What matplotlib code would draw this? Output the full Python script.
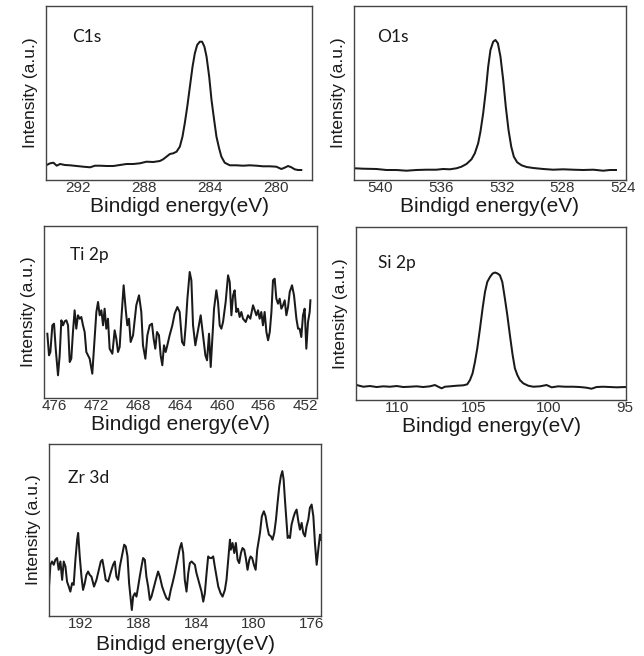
import matplotlib
matplotlib.use("Agg")
import matplotlib.pyplot as plt

plt.rcParams['font.family'] = ['Liberation Sans', 'DejaVu Sans']

# ---- data (binding energy in eV, intensity in a.u.) ----
c1s_e = [293.92, 293.71, 293.51, 293.31, 293.11, 292.81, 292.50, 292.10, 291.70, 291.29,
         290.99, 290.69, 290.29, 289.88, 289.48, 289.08, 288.67, 288.27, 287.87, 287.46,
         287.06, 286.86, 286.66, 286.45, 286.25, 286.05, 285.85, 285.69, 285.55, 285.40,
         285.24, 285.08, 284.94, 284.80, 284.64, 284.50, 284.36, 284.23, 284.07, 283.93,
         283.77, 283.63, 283.47, 283.33, 283.13, 282.82, 282.42, 282.02, 281.61, 281.21,
         280.81, 280.40, 280.00, 279.70, 279.50, 279.29, 279.09, 278.89, 278.69, 278.49]
c1s_i = [15.0, 16.7, 17.3, 14.3, 16.0, 15.0, 14.7, 14.0, 13.3, 12.7,
         14.3, 14.3, 14.0, 14.0, 15.0, 16.0, 16.0, 16.7, 18.3, 18.0,
         19.0, 20.7, 23.3, 26.0, 26.7, 28.3, 33.3, 43.3, 56.7, 73.3,
         93.3, 113.3, 126.7, 135.0, 138.3, 138.3, 133.3, 123.3, 103.3, 80.0,
         60.0, 43.3, 31.7, 23.3, 17.3, 14.7, 14.7, 14.3, 14.7, 14.3,
         13.7, 13.7, 13.3, 11.0, 12.3, 14.0, 12.7, 10.7, 10.0, 10.0]

o1s_e = [541.69, 541.14, 540.26, 539.60, 538.95, 538.29, 537.63, 536.97, 536.31, 535.87,
         535.43, 534.99, 534.66, 534.33, 534.00, 533.78, 533.56, 533.41, 533.23, 533.05,
         532.90, 532.75, 532.57, 532.42, 532.26, 532.09, 531.91, 531.74, 531.56, 531.38,
         531.21, 530.99, 530.70, 530.37, 529.93, 529.27, 528.62, 527.96, 527.30, 526.64,
         525.98, 525.32, 524.88, 524.48]
o1s_i = [11.7, 11.3, 11.0, 10.0, 10.0, 9.3, 10.0, 10.3, 10.3, 11.0,
         10.7, 11.7, 13.3, 16.0, 20.7, 26.7, 36.7, 48.3, 66.7, 90.0,
         113.3, 130.0, 138.3, 140.0, 136.7, 123.3, 100.0, 73.3, 50.0, 33.3,
         23.3, 17.7, 14.7, 13.0, 12.0, 11.0, 10.3, 10.7, 10.3, 10.0,
         10.3, 9.3, 10.0, 10.0]

ti2p_e = [476.70, 476.54, 476.41, 476.22, 476.06, 475.90, 475.68, 475.52, 475.36, 475.20,
          475.04, 474.88, 474.72, 474.56, 474.41, 474.25, 474.09, 473.93, 473.77, 473.61,
          473.45, 473.29, 473.13, 472.97, 472.65, 472.40, 472.24, 472.01, 471.85, 471.69,
          471.53, 471.37, 471.22, 471.06, 470.90, 470.74, 470.48, 470.26, 470.10, 469.94,
          469.78, 469.62, 469.40, 469.21, 469.05, 468.89, 468.73, 468.50, 468.19, 467.93,
          467.71, 467.55, 467.32, 467.13, 466.91, 466.69, 466.53, 466.37, 466.21, 466.02,
          465.86, 465.70, 465.54, 465.38, 465.22, 465.00, 464.74, 464.52, 464.26, 464.04,
          463.81, 463.62, 463.46, 463.30, 463.08, 462.92, 462.76, 462.54, 462.28, 462.03,
          461.81, 461.58, 461.42, 461.23, 461.07, 460.91, 460.75, 460.53, 460.37, 460.21,
          460.05, 459.89, 459.64, 459.41, 459.25, 459.09, 458.93, 458.78, 458.62, 458.46,
          458.30, 458.14, 457.98, 457.72, 457.50, 457.28, 457.02, 456.86, 456.70, 456.54,
          456.39, 456.23, 456.07, 455.91, 455.74, 455.58, 455.42, 455.26, 455.11, 454.95,
          454.79, 454.63, 454.47, 454.31, 454.15, 453.99, 453.83, 453.67, 453.51, 453.29,
          453.10, 452.87, 452.71, 452.56, 452.40, 452.24, 452.08, 451.92, 451.76, 451.60,
          451.53]
ti2p_i = [64.3, 42.7, 46.0, 72.7, 74.3, 49.3, 22.7, 42.7, 77.7, 72.7,
          76.7, 77.7, 72.7, 36.0, 39.3, 66.0, 87.7, 69.3, 82.7, 79.3,
          81.0, 72.7, 66.0, 46.0, 39.3, 24.3, 49.3, 86.0, 96.0, 82.7,
          87.7, 72.7, 89.3, 69.3, 79.3, 49.3, 44.3, 67.7, 59.3, 46.0,
          51.0, 79.3, 112.7, 89.3, 72.7, 79.3, 56.0, 62.7, 92.7, 102.7,
          86.0, 52.7, 39.3, 62.7, 72.7, 74.3, 59.3, 49.3, 66.0, 62.7,
          42.7, 32.7, 52.7, 46.0, 52.7, 62.7, 72.7, 84.3, 91.0, 86.0,
          56.0, 52.7, 72.7, 99.3, 126.0, 117.7, 72.7, 52.7, 67.7, 82.7,
          62.7, 42.7, 37.7, 64.3, 31.0, 59.3, 89.3, 107.7, 96.0, 72.7,
          69.3, 76.0, 96.0, 122.7, 116.0, 82.7, 102.7, 107.7, 86.0, 89.3,
          81.0, 86.0, 79.3, 76.0, 82.7, 79.3, 92.7, 87.7, 82.7, 87.7,
          79.3, 86.0, 72.7, 86.0, 66.0, 57.7, 66.0, 86.0, 117.7, 119.3,
          99.3, 94.3, 99.3, 89.3, 92.7, 97.7, 82.7, 91.0, 106.0, 112.7,
          102.7, 79.3, 69.3, 69.3, 61.0, 82.7, 89.3, 49.3, 76.0, 86.0,
          97.7]

si2p_e = [112.68, 112.24, 111.80, 111.36, 110.92, 110.48, 110.04, 109.60, 109.17, 108.73,
          108.29, 107.85, 107.52, 107.30, 107.08, 106.86, 106.53, 106.09, 105.65, 105.39,
          105.21, 105.04, 104.88, 104.73, 104.55, 104.38, 104.22, 104.07, 103.89, 103.72,
          103.56, 103.39, 103.24, 103.08, 102.91, 102.75, 102.58, 102.40, 102.25, 102.09,
          101.92, 101.70, 101.37, 101.04, 100.60, 100.16, 99.83, 99.39, 98.95, 98.40,
          97.96, 97.52, 97.20, 96.87, 96.43, 95.99, 95.55, 95.00]
si2p_i = [15.0, 13.3, 14.0, 13.0, 13.7, 13.3, 14.0, 13.0, 13.3, 13.7,
          13.0, 13.7, 15.0, 13.3, 11.7, 13.3, 13.7, 14.3, 14.7, 15.7,
          20.0, 26.7, 38.3, 51.7, 71.7, 91.7, 108.3, 118.3, 123.3, 126.7,
          127.7, 126.7, 125.0, 118.3, 101.7, 85.0, 65.0, 45.0, 31.7, 25.0,
          20.0, 16.7, 14.3, 13.3, 13.7, 15.0, 12.7, 13.7, 13.3, 13.3,
          13.0, 12.3, 11.3, 13.0, 13.3, 13.0, 12.7, 13.0]

zr3d_e = [194.20, 194.10, 193.99, 193.87, 193.76, 193.64, 193.53, 193.41, 193.29, 193.18,
          193.06, 192.95, 192.83, 192.72, 192.60, 192.49, 192.37, 192.25, 192.18, 192.07,
          191.95, 191.84, 191.72, 191.61, 191.49, 191.38, 191.26, 191.08, 190.91, 190.75,
          190.61, 190.50, 190.38, 190.27, 190.10, 189.87, 189.76, 189.64, 189.53, 189.41,
          189.29, 189.13, 188.99, 188.88, 188.76, 188.65, 188.53, 188.46, 188.37, 188.25,
          188.14, 188.02, 187.91, 187.79, 187.68, 187.56, 187.45, 187.33, 187.21, 187.10,
          186.98, 186.80, 186.64, 186.52, 186.36, 186.20, 186.06, 185.90, 185.76, 185.64,
          185.48, 185.29, 185.13, 185.02, 184.90, 184.79, 184.67, 184.55, 184.44, 184.32,
          184.21, 184.09, 183.98, 183.79, 183.63, 183.51, 183.40, 183.28, 183.17, 183.05,
          182.94, 182.82, 182.71, 182.59, 182.47, 182.31, 182.17, 182.01, 181.90, 181.78,
          181.66, 181.60, 181.48, 181.36, 181.25, 181.13, 181.02, 180.90, 180.79, 180.67,
          180.56, 180.44, 180.32, 180.23, 180.12, 180.00, 179.88, 179.77, 179.58, 179.45,
          179.31, 179.19, 179.08, 178.96, 178.82, 178.71, 178.59, 178.47, 178.36, 178.24,
          178.13, 178.03, 177.94, 177.85, 177.73, 177.66, 177.60, 177.50, 177.39, 177.27,
          177.16, 177.04, 176.92, 176.81, 176.69, 176.58, 176.46, 176.35, 176.23, 176.12,
          176.00, 175.88, 175.77, 175.65, 175.54, 175.42, 175.35]
zr3d_i = [29.3, 51.0, 54.3, 51.0, 56.0, 57.7, 46.0, 54.3, 36.0, 54.3,
          49.3, 34.3, 29.3, 24.3, 32.7, 31.0, 56.0, 76.0, 82.7, 59.3,
          39.3, 26.0, 32.7, 41.0, 44.3, 41.0, 39.3, 29.3, 36.0, 46.0,
          54.3, 56.0, 46.0, 36.0, 34.3, 46.0, 51.0, 54.3, 39.3, 36.0,
          49.3, 61.0, 71.0, 69.3, 59.3, 32.7, 16.0, 6.0, 19.3, 22.7,
          19.3, 29.3, 39.3, 49.3, 57.7, 56.0, 39.3, 29.3, 16.0, 19.3,
          26.0, 36.0, 44.3, 39.3, 29.3, 22.7, 17.7, 16.0, 26.0, 32.7,
          42.7, 56.0, 67.7, 72.7, 62.7, 36.0, 24.3, 42.7, 52.7, 54.3,
          52.7, 51.0, 42.7, 32.7, 24.3, 14.3, 22.7, 42.7, 59.3, 57.7,
          57.7, 59.3, 49.3, 39.3, 29.3, 22.7, 19.3, 26.0, 36.0, 56.0,
          76.0, 66.0, 72.7, 62.7, 72.7, 56.0, 52.7, 62.7, 67.7, 66.0,
          57.7, 46.0, 56.0, 59.3, 57.7, 51.0, 46.0, 66.0, 82.7, 99.3,
          104.3, 99.3, 89.3, 81.0, 79.3, 76.0, 82.7, 96.0, 112.7, 129.3,
          139.3, 144.3, 136.0, 116.0, 92.7, 77.7, 79.3, 77.7, 91.0, 97.7,
          102.7, 106.0, 94.3, 86.0, 92.7, 82.7, 79.3, 89.3, 96.0, 107.7,
          111.0, 99.3, 72.7, 51.0, 66.0, 81.0, 76.0]

xlabel = 'Bindigd energy(eV)'
ylabel = 'Intensity (a.u.)'

W, H = 644, 656
fig = plt.figure(figsize=(W / 100, H / 100), dpi=100)
fig.set_facecolor('white')


def panel(box, e, i, xlim, ylim, ticks, name, name_xy, lpad=1.5):
    # box = (left, top, right, bottom) in pixels
    l, t, r, b = box
    ax = fig.add_axes([l / W, 1 - b / H, (r - l) / W, (b - t) / H])
    ax.plot(e, i, color='#1a1a1a', lw=1.45)
    ax.set_xlim(*xlim)
    ax.set_ylim(*ylim)
    ax.set_xticks(ticks)
    ax.set_xticklabels([str(v) for v in ticks])
    ax.set_yticks([])
    ax.tick_params(axis='x', length=0, pad=0.8, labelsize=11, labelcolor='#333333')
    for s in ax.spines.values():
        s.set_color('#444444')
        s.set_linewidth(1.0)
    ax.set_xlabel(xlabel, fontsize=15, labelpad=lpad, color='#1a1a1a')
    ax.set_ylabel(ylabel, fontsize=12.5, labelpad=6, color='#1a1a1a')
    ax.text(name_xy[0], name_xy[1], name, transform=ax.transAxes, ha='left', va='top',
            fontsize=12.5, family=['Lato', 'DejaVu Sans'], color='#1a1a1a')
    return ax


panel((46, 6, 312, 180), c1s_e, c1s_i, (293.96, 277.84), (0, 174),
      [292, 288, 284, 280], 'C1s', (0.10, 0.87))
panel((354, 6, 626, 180), o1s_e, o1s_i, (541.74, 523.82), (0, 174),
      [540, 536, 532, 528, 524], 'O1s', (0.085, 0.87))
panel((44, 226, 317, 398), ti2p_e, ti2p_i, (477.02, 450.90), (0, 172),
      [476, 472, 468, 464, 460, 456, 452], 'Ti 2p', (0.095, 0.88))
panel((356, 227, 626, 400), si2p_e, si2p_i, (112.72, 94.93), (0, 173.3),
      [110, 105, 100, 95], 'Si 2p', (0.08, 0.84))
panel((49, 444, 321, 616), zr3d_e, zr3d_i, (194.2, 175.35), (0, 171.3),
      [192, 188, 184, 180, 176], 'Zr 3d', (0.07, 0.85), lpad=2.5)

fig.savefig('out.png', dpi=100)
